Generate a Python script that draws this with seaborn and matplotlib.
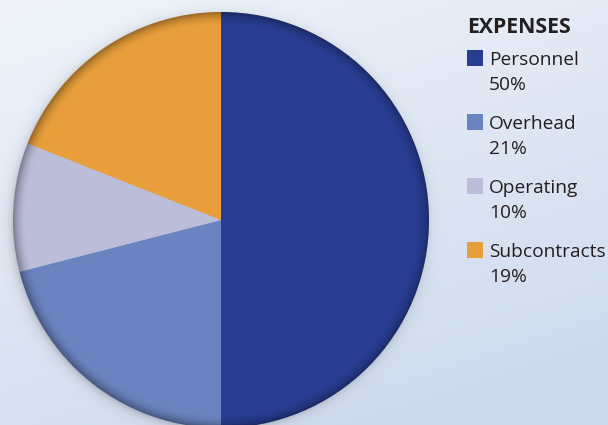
import numpy as np
import matplotlib
matplotlib.use("Agg")
import matplotlib.pyplot as plt
from matplotlib.patches import Circle, Rectangle
import seaborn as sns

# ---- data ----
categories = ["Personnel", "Overhead", "Operating", "Subcontracts"]
values = [50, 21, 10, 19]
colors = ["#283D92", "#6A84C1", "#BBBDD9", "#E89E3A"]
legend_title = "EXPENSES"

sns.set_theme(style="white")
plt.rcParams['font.family'] = ['Open Sans', 'DejaVu Sans']

W, H = 608, 425
fig = plt.figure(figsize=(W / 100, H / 100), dpi=100)

# background gradient
bg = fig.add_axes([0, 0, 1, 1])
yy, xx = np.mgrid[0:1:200j, 0:1:300j]
t = np.clip(0.35 * xx + 0.75 * yy, 0, 1)
c0 = np.array([0xF0, 0xF4, 0xFA]) / 255
c1 = np.array([0xCE, 0xDA, 0xED]) / 255
img = c0[None, None, :] * (1 - t[..., None]) + c1[None, None, :] * t[..., None]
bg.imshow(img, extent=[0, 1, 0, 1], aspect="auto", origin="upper")
bg.set_axis_off()

# pie axes: center (221,220) px, radius 208 px
cx, cy, R = 221, 220, 208
ax = fig.add_axes([(cx - R) / W, (H - cy - R) / H, 2 * R / W, 2 * R / H])
ax.set_facecolor("none")

# soft shadow
n = 400
g = np.linspace(-1.15, 1.15, n)
gx, gy = np.meshgrid(g, g)
rr = np.hypot(gx + 0.01, gy + 0.012)
sh_alpha = np.where(rr > 0.99, 0.25 * np.exp(-(rr - 0.99) / 0.022), 0.25)
sh = np.zeros((n, n, 4))
sh[..., :3] = 0.25
sh[..., 3] = sh_alpha
ax.imshow(sh, extent=[-1.15, 1.15, -1.15, 1.15], origin="lower", zorder=0,
          clip_on=False, interpolation="bilinear")

wedges, _ = ax.pie(values, colors=colors, startangle=90, counterclock=False,
                   radius=1.0, wedgeprops=dict(linewidth=0))
for w in wedges:
    w.set_zorder(1)

# rim darkening
g2 = np.linspace(-1, 1, n)
hx, hy = np.meshgrid(g2, g2)
r2 = np.hypot(hx, hy)
rim = np.clip((r2 - 0.935) / 0.065, 0, 1) ** 2 * 0.33
ov = np.zeros((n, n, 4))
ov[..., 3] = rim
im = ax.imshow(ov, extent=[-1, 1, -1, 1], origin="lower", zorder=2,
               interpolation="bilinear")
clip = Circle((0, 0), 1.0, transform=ax.transData)
im.set_clip_path(clip)

ax.set_xlim(-1, 1)
ax.set_ylim(-1, 1)
ax.set_aspect("equal")
ax.set_axis_off()

# legend
def fx(px):
    return px / W

def fy(py):
    return 1 - py / H

fig.text(fx(467), fy(33), legend_title, fontsize=15.3, fontweight="bold",
         color="#231F20", va="baseline", ha="left")
for i, (cat, val, col) in enumerate(zip(categories, values, colors)):
    top = 50 + 64 * i
    fig.patches.append(Rectangle((fx(467), fy(top + 16)), 16 / W, 16 / H,
                                 transform=fig.transFigure, facecolor=col,
                                 edgecolor="none", figure=fig))
    fig.text(fx(489), fy(top + 15), cat, fontsize=13.8, color="#231F20",
             va="baseline", ha="left")
    fig.text(fx(489), fy(top + 40), f"{val}%", fontsize=13.8, color="#231F20",
             va="baseline", ha="left")

fig.savefig("out.png", dpi=100)
